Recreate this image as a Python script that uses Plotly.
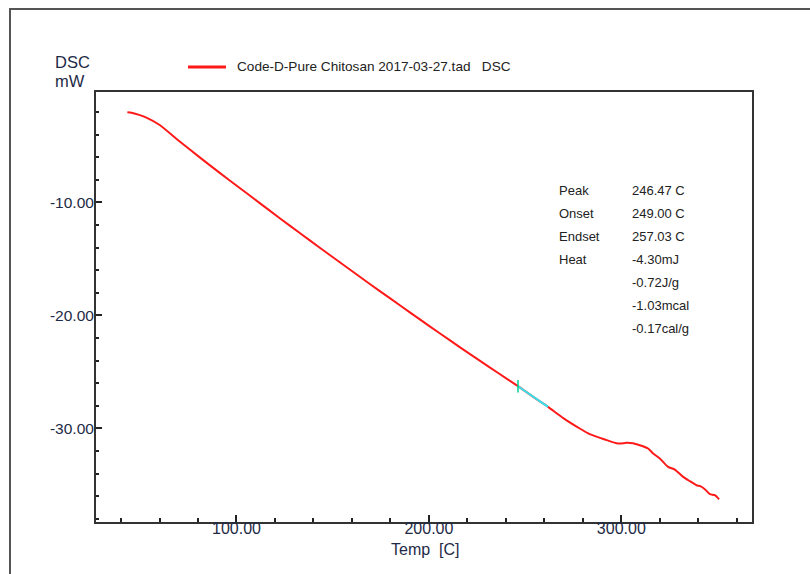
import plotly.graph_objects as go

# ---- data ----
temp = [43.3, 45.4, 49.0, 53.2, 60.1, 70.0, 80.9, 91.3, 101.7, 112.1, 122.5, 132.9, 143.3,
        153.7, 164.1, 174.5, 184.9, 195.3, 205.6, 216.0, 226.4, 236.4, 246.3, 254.0, 261.9,
        270.0, 278.4, 283.6, 291.4, 298.3, 302.7, 306.0, 309.6, 313.9, 316.5, 320.0, 324.3,
        327.8, 332.1, 335.6, 339.1, 341.0, 343.4, 346.0, 348.6, 350.8]
dsc = [-2.04, -2.07, -2.24, -2.51, -3.16, -4.55, -6.02, -7.39, -8.73, -10.07, -11.40, -12.71, -14.01,
       -15.30, -16.58, -17.85, -19.10, -20.35, -21.58, -22.80, -24.00, -25.14, -26.26, -27.18, -28.09,
       -29.10, -30.00, -30.50, -30.97, -31.33, -31.27, -31.30, -31.48, -31.77, -32.21, -32.65, -33.40,
       -33.63, -34.28, -34.66, -35.02, -35.10, -35.37, -35.81, -35.90, -36.26]

# analysis (baseline) segment, drawn in cyan
seg_temp = [246.3, 250.0, 254.0, 258.0, 261.9]
seg_dsc = [-26.26, -26.70, -27.18, -27.63, -28.09]

legend_label = "Code-D-Pure Chitosan 2017-03-27.tad   DSC"
result_names = ["Peak", "Onset", "Endset", "Heat", "", "", ""]
result_values = ["246.47 C", "249.00 C", "257.03 C", "-4.30mJ", "-0.72J/g", "-1.03mcal", "-0.17cal/g"]

x_range = [27.0, 367.9]
y_range = [-38.27, -0.24]
x_ticks = [100, 200, 300]
y_ticks = [-10, -20, -30]

# ---- layout geometry (pixels) ----
W, H = 810, 574
ML, MR, MT, MB = 96, 58, 92, 52
PW, PH = W - ML - MR, H - MT - MB


def px(x):
    return (x - ML) / PW


def py(y):
    return (H - MB - y) / PH


FONT = "Liberation Sans, Arial, sans-serif"
TICKCOL = "#1e2a46"

fig = go.Figure()
fig.add_trace(go.Scatter(x=temp, y=dsc, mode="lines",
                         line=dict(color="#ff1a1a", width=2, shape="spline", smoothing=0.6),
                         showlegend=False))
fig.add_trace(go.Scatter(x=seg_temp, y=seg_dsc, mode="lines",
                         line=dict(color="#33e6ee", width=2), showlegend=False))
fig.add_trace(go.Scatter(x=seg_temp[:1], y=seg_dsc[:1], mode="markers",
                         marker=dict(symbol="line-ns-open", size=9,
                                     line=dict(color="#33e6ee", width=1.5)),
                         showlegend=False))

fig.update_layout(
    width=W, height=H,
    margin=dict(l=ML, r=MR, t=MT, b=MB, pad=0),
    paper_bgcolor="white", plot_bgcolor="white",
    font=dict(family=FONT, color="#222"),
    showlegend=False,
)

fig.update_xaxes(
    range=x_range, showgrid=False, zeroline=False,
    showline=True, linecolor="#333", linewidth=2, mirror=True,
    tickmode="array", tickvals=x_ticks, ticktext=[f"{v:.2f}" for v in x_ticks],
    ticks="inside", ticklen=7, tickwidth=1.5, tickcolor="#222",
    ticklabelstandoff=-9,
    tickfont=dict(size=16, color=TICKCOL, family=FONT),
    minor=dict(tickmode="linear", tick0=0, dtick=20, ticks="inside", ticklen=4,
               tickwidth=1.5, tickcolor="#222"),
)
fig.update_yaxes(
    range=y_range, showgrid=False, zeroline=False,
    showline=True, linecolor="#333", linewidth=2, mirror=True,
    tickmode="array", tickvals=y_ticks, ticktext=[f"{v:.2f}" for v in y_ticks],
    ticks="inside", ticklen=6, tickwidth=1.5, tickcolor="#222",
    ticklabelstandoff=-3,
    tickfont=dict(size=15.5, color=TICKCOL, family=FONT),
    minor=dict(tickmode="linear", tick0=0, dtick=2, ticks="inside", ticklen=3,
               tickwidth=1.5, tickcolor="#222"),
)

shapes = [
    # outer frame
    dict(type="rect", xref="paper", yref="paper",
         x0=px(10), x1=px(830), y0=py(9), y1=py(600),
         line=dict(color="#555", width=2), fillcolor="rgba(0,0,0,0)", layer="below"),
    # legend sample line
    dict(type="line", xref="paper", yref="paper",
         x0=px(188), x1=px(226), y0=py(67), y1=py(67),
         line=dict(color="#ff1a1a", width=3)),
]

annotations = [
    dict(text=legend_label, xref="paper", yref="paper", x=px(235), y=py(67),
         xanchor="left", yanchor="middle", showarrow=False,
         font=dict(size=13.6, color="#222", family=FONT)),
    dict(text="DSC", xref="paper", yref="paper", x=px(53), y=py(62),
         xanchor="left", yanchor="middle", showarrow=False,
         font=dict(size=16.5, color=TICKCOL, family=FONT)),
    dict(text="mW", xref="paper", yref="paper", x=px(53), y=py(81),
         xanchor="left", yanchor="middle", showarrow=False,
         font=dict(size=16.5, color=TICKCOL, family=FONT)),
    dict(text="Temp  [C]", xref="paper", yref="paper", x=px(425), y=py(549),
         xanchor="center", yanchor="middle", showarrow=False,
         font=dict(size=16, color=TICKCOL, family=FONT)),
]

row_y = [190, 213, 236, 259, 282, 305, 328]
for name, val, ry in zip(result_names, result_values, row_y):
    if name:
        annotations.append(dict(text=name, xref="paper", yref="paper", x=px(557), y=py(ry),
                                xanchor="left", yanchor="middle", showarrow=False,
                                font=dict(size=13, color="#222", family=FONT)))
    annotations.append(dict(text=val, xref="paper", yref="paper", x=px(630), y=py(ry),
                            xanchor="left", yanchor="middle", showarrow=False,
                            font=dict(size=13, color="#222", family=FONT)))

fig.update_layout(shapes=shapes, annotations=annotations)
fig.write_html("out.html")
